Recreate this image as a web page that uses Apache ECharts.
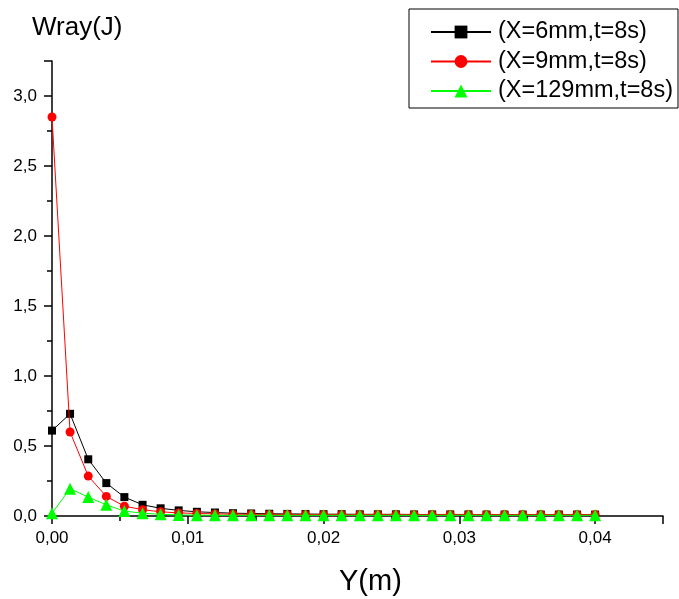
<!DOCTYPE html>
<html><head><meta charset="utf-8">
<script src="https://cdn.jsdelivr.net/npm/echarts@6/dist/echarts.min.js"></script>
<style>html,body{margin:0;padding:0;background:#fff}#c{width:679px;height:599px}</style>
</head><body><div id="c"></div>
<script>
const yPos = [0, 0.00133, 0.00267, 0.004, 0.00533, 0.00667, 0.008, 0.00933, 0.01067, 0.012, 0.01333, 0.01467, 0.016, 0.01733, 0.01867, 0.02, 0.02133, 0.02267, 0.024, 0.02533, 0.02667, 0.028, 0.02933, 0.03067, 0.032, 0.03333, 0.03467, 0.036, 0.03733, 0.03867, 0.04];
const wX6 = [0.61, 0.73, 0.405, 0.235, 0.135, 0.08, 0.055, 0.04, 0.03, 0.025, 0.02, 0.018, 0.016, 0.015, 0.014, 0.013, 0.013, 0.012, 0.012, 0.012, 0.011, 0.011, 0.011, 0.011, 0.01, 0.01, 0.01, 0.01, 0.01, 0.01, 0.01];
const wX9 = [2.85, 0.60, 0.285, 0.14, 0.07, 0.045, 0.03, 0.022, 0.018, 0.015, 0.013, 0.012, 0.011, 0.011, 0.01, 0.01, 0.01, 0.01, 0.01, 0.01, 0.01, 0.01, 0.01, 0.01, 0.01, 0.01, 0.01, 0.01, 0.01, 0.01, 0.01];
const wX129 = [0.02, 0.195, 0.135, 0.08, 0.035, 0.02, 0.012, 0.008, 0.006, 0.005, 0.005, 0.005, 0.005, 0.005, 0.005, 0.005, 0.005, 0.005, 0.005, 0.005, 0.005, 0.005, 0.005, 0.005, 0.005, 0.005, 0.005, 0.005, 0.005, 0.005, 0.005];
const seriesNames = ['(X=6mm,t=8s)', '(X=9mm,t=8s)', '(X=129mm,t=8s)'];
const xTitle = 'Y(m)';
const yTitle = 'Wray(J)';

const pair = arr => yPos.map((x, i) => [x, arr[i]]);
const font = 'Liberation Sans, Arial, sans-serif';
const chart = echarts.init(document.getElementById('c'));
chart.setOption({
  animation: false,
  backgroundColor: '#fff',
  grid: {left: 52, right: 16, top: 61, bottom: 83},
  legend: {
    orient: 'vertical', left: 409, top: 9,
    itemWidth: 60, itemHeight: 16, itemGap: 5.5,
    padding: [11, 5, 5, 21],
    borderColor: '#000', borderWidth: 1,
    textStyle: {fontSize: 23.5, color: '#000', fontFamily: font, padding: [0, 0, 0, 2]},
    data: seriesNames
  },
  xAxis: {
    type: 'value', min: 0, max: 0.045, interval: 0.01,
    axisLine: {lineStyle: {color: '#000', width: 1.5}},
    axisTick: {length: 8, lineStyle: {color: '#000', width: 1.5}},
    minorTick: {show: true, splitNumber: 2, length: 5, lineStyle: {color: '#000', width: 1.5}},
    splitLine: {show: false},
    axisLabel: {
      fontSize: 17, color: '#000', fontFamily: font, margin: 14,
      formatter: v => Math.abs(v * 100 - Math.round(v * 100)) > 1e-6 ? '' : v.toFixed(2).replace('.', ',')
    }
  },
  yAxis: {
    type: 'value', min: 0, max: 3.25, interval: 0.5,
    axisLine: {show: true, lineStyle: {color: '#000', width: 1.5}},
    axisTick: {show: true, length: 8, lineStyle: {color: '#000', width: 1.5}},
    minorTick: {show: true, splitNumber: 2, length: 5, lineStyle: {color: '#000', width: 1.5}},
    splitLine: {show: false},
    axisLabel: {
      fontSize: 17, color: '#000', fontFamily: font, margin: 15,
      formatter: v => Math.abs(v * 2 - Math.round(v * 2)) > 1e-6 ? '' : v.toFixed(1).replace('.', ',')
    }
  },
  graphic: [
    {type: 'text', left: 32, top: 15, style: {text: yTitle, fontSize: 26, fill: '#000', fontFamily: font}},
    {type: 'text', left: 339, top: 567, style: {text: xTitle, fontSize: 29, fill: '#000', fontFamily: font}}
  ],
  series: [
    {name: seriesNames[0], type: 'line', data: pair(wX6), symbol: 'rect', symbolSize: 8,
     itemStyle: {color: '#000'}, lineStyle: {color: '#000', width: 1}, z: 2},
    {name: seriesNames[1], type: 'line', data: pair(wX9), symbol: 'circle', symbolSize: 9,
     itemStyle: {color: '#ff0000'}, lineStyle: {color: '#ff0000', width: 1}, z: 3},
    {name: seriesNames[2], type: 'line', data: pair(wX129), symbol: 'triangle', symbolSize: 12,
     itemStyle: {color: '#00ff00'}, lineStyle: {color: '#00ff00', width: 1}, z: 4}
  ]
});
</script></body></html>
